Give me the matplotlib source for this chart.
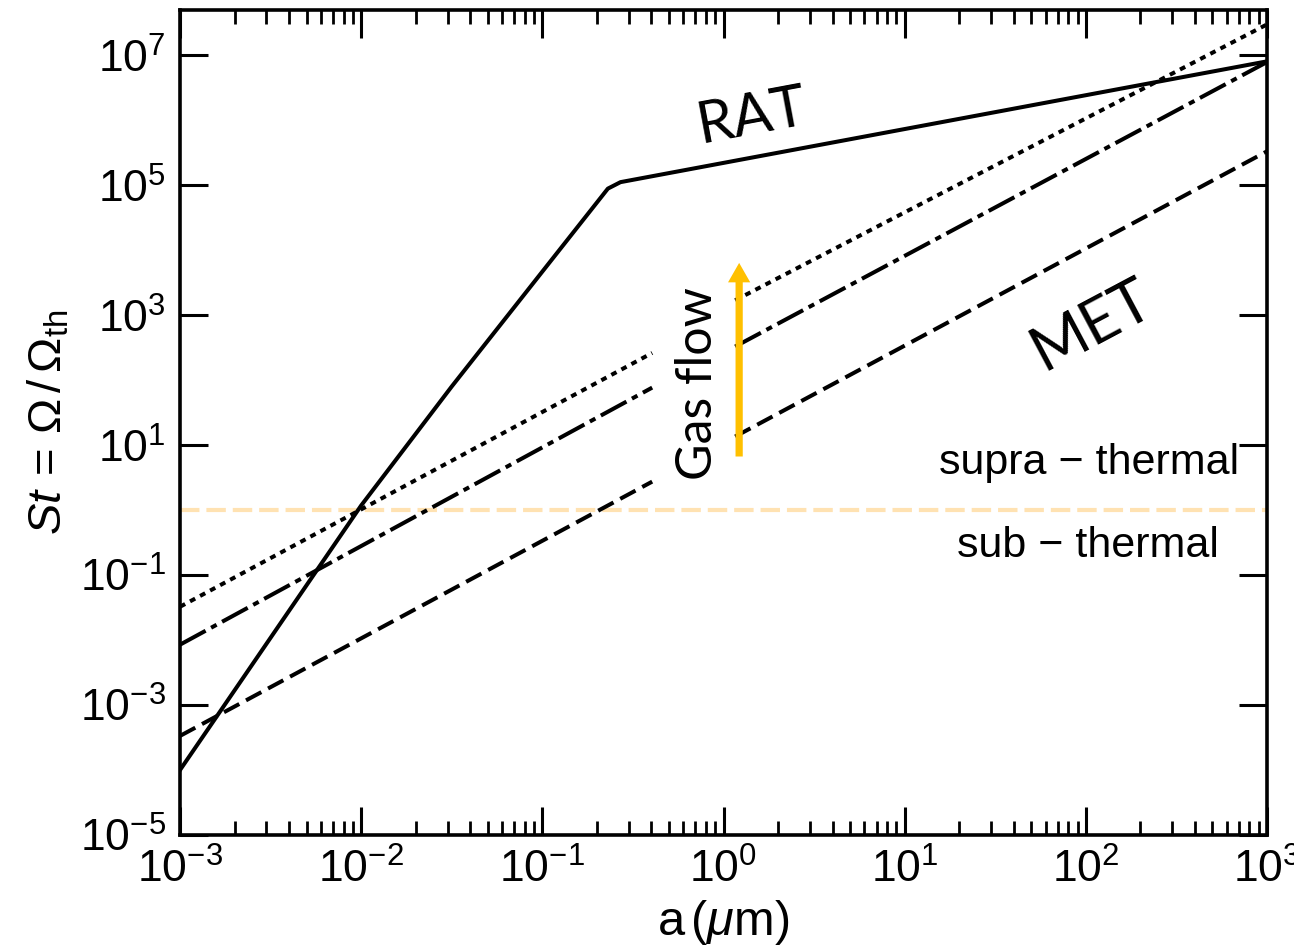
import numpy as np
import matplotlib
matplotlib.use("Agg")
import matplotlib.pyplot as plt
from matplotlib.ticker import FixedLocator, LogLocator, NullLocator, LogFormatterSciNotation

plt.rcParams['font.family'] = ['Liberation Sans', 'DejaVu Sans']
plt.rcParams['mathtext.fontset'] = 'custom'
plt.rcParams['mathtext.rm'] = 'Liberation Sans'
plt.rcParams['mathtext.it'] = 'Liberation Sans:italic'
plt.rcParams['mathtext.bf'] = 'Liberation Sans:bold'
plt.rcParams['lines.scale_dashes'] = False

# Grain size (micron) and rotational rate St for the RAT spin-up curve
rat_a = [1e-3, 1e-2, 3.16e-2, 0.1, 0.23, 0.27, 1e3]
rat_st = [1.0e-4, 1.18, 80.0, 4.7e3, 8.9e4, 1.12e5, 8.1e6]

# MET curves: each drawn as two pieces on either side of the gas-flow arrow
met_a_lo = [1e-3, 0.404]
met_a_hi = [1.16, 1e3]
dotted_lo = [0.0326, 263.0]
dotted_hi = [1700.0, 3.0e7]
dashdot_lo = [0.0085, 77.0]
dashdot_hi = [330.0, 7.9e6]
dashed_lo = [3.35e-4, 2.75]
dashed_hi = [13.6, 3.34e5]

st_thermal = 1.0
arrow_a = 1.22
arrow_st = [6.7, 6.4e3]

xlim = (1e-3, 1e3)
ylim = (1e-5, 5e7)
yticks = [1e-5, 1e-3, 1e-1, 1e1, 1e3, 1e5, 1e7]

fig = plt.figure(figsize=(12.94, 9.52), dpi=100)
ax = fig.add_axes([180 / 1294, 1 - 835 / 952, (1267 - 180) / 1294, (835 - 10) / 952])
ax.set_xscale('log')
ax.set_yscale('log')
ax.set_xlim(*xlim)
ax.set_ylim(*ylim)

lw = 2.9
ax.axhline(st_thermal, color='#FFE2B2', lw=3.0, dashes=(14, 5), zorder=1)

ax.plot(rat_a, rat_st, color='black', lw=lw, solid_joinstyle='round', zorder=3)

styles = [
    (dotted_lo, dotted_hi, (4.2, 4.0)),
    (dashdot_lo, dashdot_hi, (21, 4.5, 4.5, 4.5)),
    (dashed_lo, dashed_hi, (12.5, 5.5)),
]
for lo, hi, dash in styles:
    ax.plot(met_a_lo, lo, color='black', lw=lw, dashes=dash, zorder=3)
    ax.plot(met_a_hi, hi, color='black', lw=lw, dashes=dash, zorder=3)

ax.annotate('', xy=(arrow_a, arrow_st[1]), xytext=(arrow_a, arrow_st[0]),
            arrowprops=dict(width=5.2, headwidth=16, headlength=14, shrink=0,
                            facecolor='#FFC000', edgecolor='none', lw=0),
            zorder=4)

ax.text(0.72, 89, 'Gas flow', rotation=90, ha='center', va='center',
        fontsize=36, family='Lato')
ax.text(1.44, 1.15e6, 'RAT', rotation=10.6, ha='center', va='center',
        fontsize=42, family='Lato', rotation_mode='anchor')
ax.text(108, 700, 'MET', rotation=28, ha='center', va='center',
        fontsize=44, family='Lato', rotation_mode='anchor')

ax.text(0.974, 0.437, 'supra \u2212 thermal', transform=ax.transAxes,
        ha='right', va='baseline', fontsize=31)
ax.text(0.956, 0.3365, 'sub \u2212 thermal', transform=ax.transAxes,
        ha='right', va='baseline', fontsize=31)

ax.yaxis.set_major_locator(FixedLocator(yticks))
ax.yaxis.set_minor_locator(NullLocator())
ax.yaxis.set_major_formatter(LogFormatterSciNotation())
ax.xaxis.set_major_locator(LogLocator(base=10, numticks=20))
ax.xaxis.set_minor_locator(LogLocator(base=10, subs=np.arange(2, 10), numticks=20))

ax.tick_params(which='both', direction='in', top=True, right=True, labelsize=32)
ax.tick_params(which='major', length=20, width=2.2, pad=10)
ax.tick_params(which='minor', length=10, width=2.0)
for s in ax.spines.values():
    s.set_linewidth(2.6)

ax.set_xlabel(r'a$\,(\mu$m)', fontsize=35, labelpad=4)
ax.set_ylabel(r'$St\,=\,\Omega\,/\,\Omega_{\rm th}$', fontsize=34, labelpad=6)

fig.savefig('out.png', dpi=100)
